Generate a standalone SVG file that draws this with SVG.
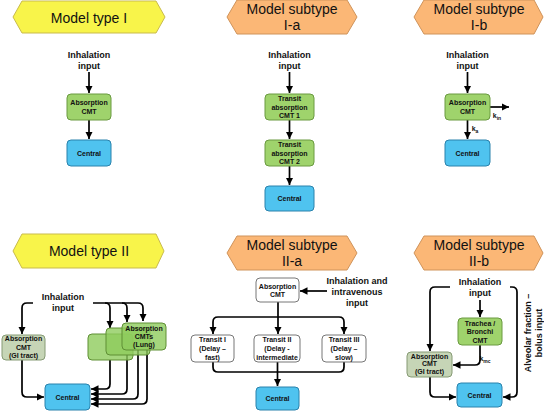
<svg xmlns="http://www.w3.org/2000/svg" width="544" height="411" viewBox="0 0 544 411">
<defs>
<marker id="ah" viewBox="0 0 10 10" refX="10" refY="5" markerWidth="7.5" markerHeight="7.5" markerUnits="userSpaceOnUse" orient="auto"><path d="M0,0 L10,5 L0,10 z" fill="#000"/></marker>
<style>
.ban-y{fill:#f8f44a;stroke:#c9bb4c;stroke-width:1}
.ban-o{fill:#fbb776;stroke:#cf935a;stroke-width:1}
.bt{font-family:"Liberation Sans",Arial,sans-serif;font-size:14px;fill:#111;text-anchor:middle}
.lbl{font-family:"Liberation Sans",Arial,sans-serif;font-size:9px;font-weight:bold;fill:#111;text-anchor:middle}
.nt{font-family:"Liberation Sans",Arial,sans-serif;font-size:7px;font-weight:bold;fill:#111;text-anchor:middle}
.g{fill:#9fd36c;stroke:#6a9a40;stroke-width:1}
.gl{fill:#8fcc5c;fill-opacity:0.8;stroke:#5f8f35;stroke-width:1}
.b{fill:#4fc3ef;stroke:#2a82ac;stroke-width:1}
.gi{fill:#c6d5b6;stroke:#869a74;stroke-width:1}
.w{fill:#fff;stroke:#777;stroke-width:1}
.c{fill:none;stroke:#000;stroke-width:1.7}
.a{marker-end:url(#ah)}
</style>
</defs>

<g id="banners">
<g id="ban-I"><polygon class="ban-y" points="13,17 22,1 156,1 165,17 156,33 22,33"/><text class="bt" x="89" y="22.5">Model type I</text></g>
<g id="ban-Ia"><polygon class="ban-o" points="227,17 237,0 347,0 357,17 347,34 237,34"/><text class="bt" x="292" y="13.5">Model subtype</text><text class="bt" x="292" y="30">I-a</text></g>
<g id="ban-Ib"><polygon class="ban-o" points="414,17 424,0 534,0 543,17 534,34 424,34"/><text class="bt" x="479" y="13.5">Model subtype</text><text class="bt" x="479" y="30">I-b</text></g>
<g id="ban-II"><polygon class="ban-y" points="13,251 22,234 156,234 164,251 156,268 22,268"/><text class="bt" x="89" y="256">Model type II</text></g>
<g id="ban-IIa"><polygon class="ban-o" points="227,253 237,236 347,236 357,253 347,270 237,270"/><text class="bt" x="292" y="250">Model subtype</text><text class="bt" x="292" y="266">II-a</text></g>
<g id="ban-IIb"><polygon class="ban-o" points="414,253 424,236 534,236 543,253 534,270 424,270"/><text class="bt" x="479" y="250">Model subtype</text><text class="bt" x="479" y="266">II-b</text></g>
</g>

<g id="labels">
<text class="lbl" x="89" y="58">Inhalation</text><text class="lbl" x="89" y="69">input</text>
<text class="lbl" x="289.5" y="58">Inhalation</text><text class="lbl" x="289.5" y="69">input</text>
<text class="lbl" x="467.5" y="58">Inhalation</text><text class="lbl" x="467.5" y="69">input</text>
<text class="lbl" x="63" y="300">Inhalation</text><text class="lbl" x="63" y="311">input</text>
<text class="lbl" x="357" y="284">Inhalation and</text><text class="lbl" x="357" y="295">intravenous</text><text class="lbl" x="357" y="306">input</text>
<text class="lbl" x="480" y="285">Inhalation</text><text class="lbl" x="480" y="296">input</text>
<text class="lbl" transform="translate(531,333) rotate(-90)">Alveolar fraction –</text>
<text class="lbl" transform="translate(542,333) rotate(-90)">bolus input</text>
<text class="nt" x="497" y="118" text-anchor="start">k<tspan font-size="5" dy="1.5">in</tspan></text>
<text class="nt" x="475" y="131" text-anchor="start">k<tspan font-size="5" dy="1.5">a</tspan></text>
<text class="nt" x="485" y="361" text-anchor="start">k<tspan font-size="5" dy="1.5">mc</tspan></text>
</g>

<g id="connectors">
<path class="c a" d="M89 72 V93"/>
<path class="c a" d="M89 120 V139"/>
<path class="c a" d="M289.5 72 V93"/>
<path class="c a" d="M289.5 120 V139"/>
<path class="c a" d="M289.5 166 V185"/>
<path class="c a" d="M467.5 72 V93"/>
<path class="c a" d="M467.5 120 V139"/>
<path class="c a" d="M490 107 H509"/>
<path class="c a" d="M33 303 H27 Q22 303 22 308 V334"/>
<path class="c a" d="M22 360 V392 Q22 397 27 397 H44"/>
<path class="c a" d="M93 303 H138 Q143 303 143 308 V321"/>
<path class="c a" d="M105 303 Q110 303 110 308 V328"/>
<path class="c a" d="M122 303 Q127 303 127 308 V322"/>
<path class="c a" d="M110 360 V384 Q110 389 105 389 H91"/>
<path class="c a" d="M127 355 V389 Q127 394 122 394 H91"/>
<path class="c a" d="M138 350 V394 Q138 399 133 399 H91"/>
<path class="c a" d="M147 350 V399 Q147 404 142 404 H91"/>
<path class="c a" d="M327 291 H300"/>
<path class="c" d="M278 302 V317"/>
<path class="c a" d="M218 317 Q213 317 213 322 V334"/>
<path class="c" d="M218 317 H339"/>
<path class="c a" d="M339 317 Q344 317 344 322 V334"/>
<path class="c a" d="M278 317 V334"/>
<path class="c" d="M213 362 V367 Q213 372 218 372 H339 Q344 372 344 367 V362"/>
<path class="c a" d="M277.5 362 V386"/>
<path class="c a" d="M450 287 H435 Q430 287 430 292 V351"/>
<path class="c a" d="M480 300 V317"/>
<path class="c a" d="M480 345 V360 Q480 365 475 365 H453"/>
<path class="c a" d="M430 377 V392 Q430 397 435 397 H456"/>
<path class="c a" d="M510 287 H512 Q517 287 517 292 V392 Q517 397 512 397 H503"/>
</g>

<g id="n-I-abs"><rect class="g" x="67" y="94" width="44" height="26" rx="4"/><text class="nt" x="89" y="104.5">Absorption</text><text class="nt" x="89" y="113.5">CMT</text></g>
<g id="n-I-cen"><rect class="b" x="67" y="140" width="44" height="26" rx="4"/><text class="nt" x="89" y="155.5">Central</text></g>

<g id="n-Ia-t1"><rect class="g" x="265" y="94" width="49" height="26" rx="4"/><text class="nt" x="289.5" y="100.5">Transit</text><text class="nt" x="289.5" y="109.5">absorption</text><text class="nt" x="289.5" y="118">CMT 1</text></g>
<g id="n-Ia-t2"><rect class="g" x="265" y="140" width="49" height="26" rx="4"/><text class="nt" x="289.5" y="146.5">Transit</text><text class="nt" x="289.5" y="155.5">absorption</text><text class="nt" x="289.5" y="164">CMT 2</text></g>
<g id="n-Ia-cen"><rect class="b" x="265" y="186" width="49" height="25" rx="4"/><text class="nt" x="289.5" y="201">Central</text></g>

<g id="n-Ib-abs"><rect class="g" x="445" y="94" width="45" height="26" rx="4"/><text class="nt" x="467.5" y="104.5">Absorption</text><text class="nt" x="467.5" y="113.5">CMT</text></g>
<g id="n-Ib-cen"><rect class="b" x="445" y="140" width="45" height="26" rx="4"/><text class="nt" x="467.5" y="155.5">Central</text></g>

<g id="n-II-gi"><rect class="gi" x="2" y="335" width="43" height="25" rx="4"/><text class="nt" x="23.5" y="340.5">Absorption</text><text class="nt" x="23.5" y="349.5">CMT</text><text class="nt" x="23.5" y="357.5">(GI tract)</text></g>
<g id="n-II-lung3"><rect class="gl" x="88" y="334" width="45" height="26" rx="4"/></g>
<g id="n-II-lung2"><rect class="gl" x="106" y="328" width="44" height="27" rx="4"/></g>
<g id="n-II-lung1"><rect class="gl" x="122" y="323" width="44" height="27" rx="4"/><text class="nt" x="144" y="330.5">Absorption</text><text class="nt" x="144" y="338.5">CMTs</text><text class="nt" x="144" y="346.5">(Lung)</text></g>
<g id="n-II-cen"><rect class="b" x="45" y="384" width="45" height="26" rx="4"/><text class="nt" x="67.5" y="399.5">Central</text></g>

<g id="n-IIa-abs"><rect class="w" x="256" y="278" width="43" height="24" rx="4"/><text class="nt" x="277.5" y="289">Absorption</text><text class="nt" x="277.5" y="297">CMT</text></g>
<g id="n-IIa-t1"><rect class="w" x="191" y="335" width="43" height="27" rx="4"/><text class="nt" x="212.5" y="341.5">Transit I</text><text class="nt" x="212.5" y="351">(Delay –</text><text class="nt" x="212.5" y="359.5">fast)</text></g>
<g id="n-IIa-t2"><rect class="w" x="254" y="335" width="46" height="27" rx="4"/><text class="nt" x="277" y="341.5">Transit II</text><text class="nt" x="277" y="351">(Delay -</text><text class="nt" x="277" y="359.5">intermediate</text></g>
<g id="n-IIa-t3"><rect class="w" x="322" y="335" width="44" height="27" rx="4"/><text class="nt" x="344" y="341.5">Transit III</text><text class="nt" x="344" y="351">(Delay –</text><text class="nt" x="344" y="359.5">slow)</text></g>
<g id="n-IIa-cen"><rect class="b" x="256" y="387" width="43" height="23" rx="4"/><text class="nt" x="277.5" y="401">Central</text></g>

<g id="n-IIb-tr"><rect class="g" x="458" y="318" width="44" height="27" rx="4"/><text class="nt" x="480" y="325.5">Trachea /</text><text class="nt" x="480" y="334">Bronchi</text><text class="nt" x="480" y="342.5">CMT</text></g>
<g id="n-IIb-gi"><rect class="gi" x="407" y="352" width="45" height="25" rx="4"/><text class="nt" x="429.5" y="358.5">Absorption</text><text class="nt" x="429.5" y="366">CMT</text><text class="nt" x="429.5" y="374">(GI tract)</text></g>
<g id="n-IIb-cen"><rect class="b" x="457" y="383" width="45" height="24" rx="4"/><text class="nt" x="479.5" y="397.5">Central</text></g>
</svg>
